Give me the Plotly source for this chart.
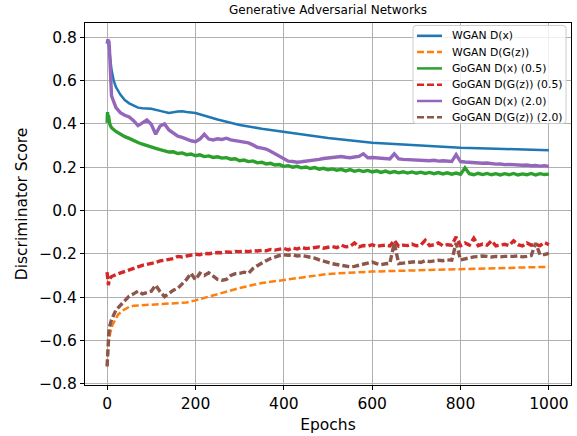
import plotly.graph_objects as go

# ---------------- data ----------------
wgan_epochs = [0, 2, 4, 6, 10, 15, 20, 30, 40, 50, 60, 70, 80, 100, 120, 140, 160, 170, 180,
               200, 250, 300, 350, 400, 450, 500, 600, 700, 800, 900, 1000]
wgan_dx = [0.78, 0.785, 0.76, 0.71, 0.65, 0.60, 0.57, 0.535, 0.51, 0.495, 0.485, 0.475, 0.472,
           0.470, 0.460, 0.450, 0.457, 0.458, 0.455, 0.450, 0.420, 0.395, 0.378, 0.364,
           0.348, 0.335, 0.313, 0.300, 0.290, 0.284, 0.278]

wgan_g_epochs = [0, 3, 7, 12, 18, 25, 37, 50, 60, 90, 135, 165, 180, 200, 250, 300, 350,
                 400, 450, 500, 600, 700, 800, 900, 1000]
wgan_dgz = [-0.72, -0.62, -0.566, -0.53, -0.506, -0.48, -0.46, -0.445, -0.44, -0.437,
            -0.43, -0.428, -0.425, -0.415, -0.385, -0.358, -0.335, -0.32, -0.305, -0.293,
            -0.282, -0.276, -0.272, -0.266, -0.26]

gogan_epochs = [0, 1, 2, 3, 4, 5, 6, 8] + list(range(10, 1001, 10))

gogan05_dx = [
    0.405, 0.455, 0.42, 0.44, 0.41, 0.425, 0.40, 0.39,
    0.382, 0.365, 0.352, 0.341, 0.333, 0.322, 0.314, 0.306, 0.301, 0.292,
    0.287, 0.281, 0.276, 0.270, 0.271, 0.263, 0.266, 0.258, 0.261, 0.253,
    0.257, 0.249, 0.252, 0.245, 0.248, 0.242, 0.244, 0.237, 0.239, 0.230,
    0.233, 0.226, 0.229, 0.220, 0.223, 0.215, 0.218, 0.210, 0.212, 0.204,
    0.207, 0.200, 0.204, 0.197, 0.201, 0.194, 0.198, 0.191, 0.195, 0.188,
    0.192, 0.186, 0.190, 0.183, 0.189, 0.181, 0.186, 0.180, 0.185, 0.178,
    0.183, 0.176, 0.182, 0.175, 0.180, 0.174, 0.179, 0.173, 0.178, 0.172,
    0.177, 0.171, 0.176, 0.170, 0.175, 0.169, 0.174, 0.168, 0.173, 0.167,
    0.197, 0.170, 0.165, 0.172, 0.166, 0.171, 0.165, 0.170, 0.164, 0.170,
    0.165, 0.171, 0.164, 0.169, 0.165, 0.171, 0.164, 0.170, 0.166, 0.168,
]

gogan05_dgz = [
    -0.285, -0.30, -0.33, -0.345, -0.33, -0.32, -0.315, -0.31,
    -0.305, -0.296, -0.288, -0.280, -0.273, -0.268, -0.260, -0.253, -0.250, -0.244,
    -0.240, -0.233, -0.229, -0.226, -0.222, -0.212, -0.215, -0.210, -0.206, -0.202,
    -0.204, -0.198, -0.200, -0.196, -0.194, -0.195, -0.191, -0.193, -0.189, -0.190,
    -0.188, -0.190, -0.185, -0.187, -0.184, -0.186, -0.180, -0.183, -0.179, -0.175,
    -0.182, -0.173, -0.178, -0.170, -0.176, -0.175, -0.171, -0.168, -0.174, -0.170,
    -0.167, -0.172, -0.160, -0.168, -0.165, -0.150, -0.168, -0.162, -0.164, -0.158,
    -0.166, -0.162, -0.160, -0.164, -0.138, -0.165, -0.160, -0.162, -0.155, -0.163,
    -0.160, -0.138, -0.162, -0.158, -0.150, -0.163, -0.158, -0.160, -0.122, -0.162,
    -0.150, -0.160, -0.128, -0.162, -0.155, -0.160, -0.140, -0.163, -0.158, -0.156,
    -0.162, -0.140, -0.158, -0.164, -0.150, -0.160, -0.157, -0.162, -0.148, -0.158,
]

gogan20_dx = [
    0.77, 0.785, 0.79, 0.78, 0.785, 0.76, 0.70, 0.60,
    0.53, 0.475, 0.452, 0.440, 0.432, 0.415, 0.392, 0.405, 0.418, 0.398,
    0.352, 0.390, 0.400, 0.372, 0.356, 0.343, 0.338, 0.328, 0.322, 0.318,
    0.330, 0.352, 0.330, 0.326, 0.331, 0.328, 0.334, 0.326, 0.322, 0.318,
    0.314, 0.312, 0.303, 0.292, 0.288, 0.284, 0.274, 0.262, 0.250, 0.238,
    0.228, 0.226, 0.223, 0.225, 0.227, 0.229, 0.233, 0.236, 0.240, 0.242,
    0.245, 0.247, 0.249, 0.246, 0.244, 0.247, 0.250, 0.262, 0.244, 0.245,
    0.243, 0.241, 0.240, 0.238, 0.262, 0.238, 0.236, 0.235, 0.233, 0.232,
    0.234, 0.231, 0.230, 0.232, 0.228, 0.230, 0.227, 0.226, 0.258, 0.226,
    0.224, 0.222, 0.223, 0.220, 0.218, 0.219, 0.216, 0.214, 0.215, 0.212,
    0.213, 0.211, 0.212, 0.209, 0.210, 0.207, 0.208, 0.205, 0.207, 0.204,
]

gogan20_dgz = [
    -0.72, -0.66, -0.60, -0.58, -0.56, -0.54, -0.53, -0.52,
    -0.505, -0.46, -0.44, -0.415, -0.395, -0.385, -0.372, -0.385, -0.378, -0.373,
    -0.345, -0.375, -0.398, -0.385, -0.368, -0.360, -0.340, -0.318, -0.290, -0.320,
    -0.290, -0.300, -0.288, -0.305, -0.318, -0.322, -0.318, -0.300, -0.292, -0.290,
    -0.285, -0.290, -0.268, -0.255, -0.242, -0.232, -0.222, -0.214, -0.208, -0.205,
    -0.207, -0.205, -0.210, -0.208, -0.212, -0.214, -0.220, -0.228, -0.236, -0.240,
    -0.246, -0.250, -0.253, -0.256, -0.260, -0.258, -0.252, -0.246, -0.240, -0.238,
    -0.245, -0.250, -0.246, -0.244, -0.150, -0.245, -0.243, -0.240, -0.238, -0.236,
    -0.240, -0.232, -0.236, -0.234, -0.230, -0.232, -0.228, -0.230, -0.150, -0.228,
    -0.222, -0.218, -0.214, -0.213, -0.210, -0.212, -0.215, -0.212, -0.214, -0.212,
    -0.213, -0.212, -0.210, -0.214, -0.212, -0.208, -0.150, -0.205, -0.203, -0.198,
]

x_ticks = [0, 200, 400, 600, 800, 1000]
y_ticks = [-0.8, -0.6, -0.4, -0.2, 0.0, 0.2, 0.4, 0.6, 0.8]

series_names = ["WGAN D(x)", "WGAN D(G(z))", "GoGAN D(x) (0.5)",
                "GoGAN D(G(z)) (0.5)", "GoGAN D(x) (2.0)", "GoGAN D(G(z)) (2.0)"]
series_colors = ["#1f77b4", "#ff7f0e", "#2ca02c", "#d62728", "#9467bd", "#8c564b"]
series_dashed = [False, True, False, True, False, True]

# ---------------- figure ----------------
FONT = "DejaVu Sans"
DASH = "7px,3px"
W, H = 577, 436
L, R, T, B = 85, 6, 23, 51
PW, PH = W - L - R, H - T - B

xs = [wgan_epochs, wgan_g_epochs, gogan_epochs, gogan_epochs, gogan_epochs, gogan_epochs]
ys = [wgan_dx, wgan_dgz, gogan05_dx, gogan05_dgz, gogan20_dx, gogan20_dgz]
widths = [2.5, 2.5, 3.4, 3.4, 3.4, 3.4]

fig = go.Figure()
for x, y, name, col, dashed, w in zip(xs, ys, series_names, series_colors, series_dashed, widths):
    fig.add_trace(go.Scatter(x=x, y=y, mode="lines", name=name, showlegend=False,
                             line=dict(color=col, width=w, dash=DASH if dashed else "solid")))


def px2paper(px, py):
    return (px - L) / PW, (H - B - py) / PH


# legend (drawn manually to match the compact matplotlib spacing)
shapes = []
annotations = []
bx0, by0 = px2paper(413, 123.5)
bx1, by1 = px2paper(566, 25.5)
rx, ry = 3 / PW, 3 / PH
path = (f"M {bx0+rx},{by0} L {bx1-rx},{by0} Q {bx1},{by0} {bx1},{by0+ry} "
        f"L {bx1},{by1-ry} Q {bx1},{by1} {bx1-rx},{by1} L {bx0+rx},{by1} "
        f"Q {bx0},{by1} {bx0},{by1-ry} L {bx0},{by0+ry} Q {bx0},{by0} {bx0+rx},{by0} Z")
shapes.append(dict(type="path", path=path, xref="paper", yref="paper", layer="above",
                   fillcolor="rgba(255,255,255,0.8)", line=dict(color="#cccccc", width=1)))
for i, (name, col, dashed) in enumerate(zip(series_names, series_colors, series_dashed)):
    cy = 35.8 + i * 16.3
    x0, y0 = px2paper(417, cy)
    x1, _ = px2paper(442, cy)
    shapes.append(dict(type="line", xref="paper", yref="paper", x0=x0, x1=x1, y0=y0, y1=y0,
                       layer="above",
                       line=dict(color=col, width=2.5, dash=DASH if dashed else "solid")))
    tx, _ = px2paper(450, cy)
    annotations.append(dict(text=name, xref="paper", yref="paper", x=tx, y=y0,
                            xanchor="left", yanchor="middle", showarrow=False,
                            font=dict(family=FONT, size=10.8, color="black")))

axis_common = dict(showline=True, linecolor="black", linewidth=1, mirror=True,
                   showgrid=True, gridcolor="#b0b0b0", gridwidth=1,
                   ticks="outside", ticklen=4, tickcolor="black",
                   tickfont=dict(family=FONT, size=15.5, color="black"),
                   zeroline=False)

fig.update_layout(
    width=W, height=H,
    margin=dict(l=L, r=R, t=T, b=B),
    paper_bgcolor="white", plot_bgcolor="white",
    font=dict(family=FONT, color="black"),
    title=dict(text="Generative Adversarial Networks", xref="paper", x=0.5,
               xanchor="center", y=1 - 10 / H, yanchor="middle",
               font=dict(family=FONT, size=12, color="black")),
    xaxis=dict(range=[-50, 1050], tickvals=x_ticks, ticktext=[str(v) for v in x_ticks],
               title=dict(text="Epochs", font=dict(family=FONT, size=15.5), standoff=7),
               **axis_common),
    yaxis=dict(range=[-0.806, 0.866], tickvals=y_ticks, tickformat=".1f",
               title=dict(text="Discriminator Score", font=dict(family=FONT, size=15.5), standoff=7),
               **axis_common),
    shapes=shapes,
    annotations=annotations,
    showlegend=False,
)

fig.write_html("out.html")
